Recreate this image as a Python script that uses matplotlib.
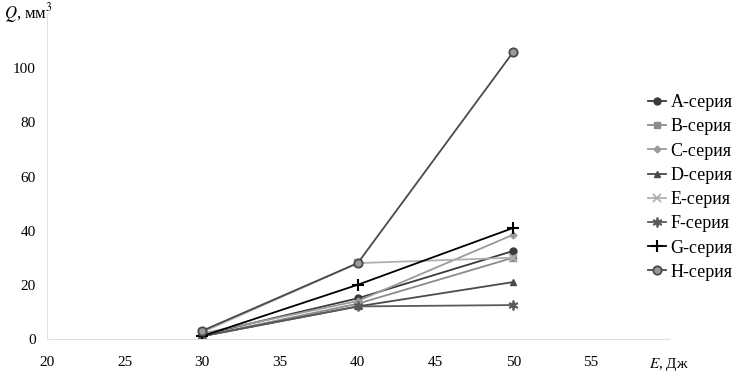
import numpy as np
import matplotlib
matplotlib.use("Agg")
import matplotlib.pyplot as plt

plt.rcParams['font.family'] = ['Liberation Serif', 'DejaVu Serif']
plt.rcParams['mathtext.fontset'] = 'stix'

# энергия удара, Дж
E = [30, 40, 50]

# объём износа Q, мм3 по сериям
series = ['A-серия', 'B-серия', 'C-серия', 'D-серия',
          'E-серия', 'F-серия', 'G-серия', 'H-серия']
Q_A = [1.5, 15, 32.5]
Q_B = [1.0, 13, 30]
Q_C = [2.0, 14, 38.5]
Q_D = [1.0, 12, 21]
Q_E = [2.5, 28, 30]
Q_F = [1.0, 12, 12.5]
Q_G = [1.0, 20, 41]
Q_H = [3.0, 28, 106]

x_ticks = [20, 25, 30, 35, 40, 45, 50, 55, 60]
x_labels = ['20', '25', '30', '35', '40', '45', '50', '55', '$E$, Дж']
y_ticks = [0, 20, 40, 60, 80, 100, 120]
y_labels = ['0', '20', '40', '60', '80', '100', '']

styles = [
    dict(color='#3a3a3a', marker='o', ms=5),
    dict(color='#8c8c8c', marker='s', ms=5),
    dict(color='#9a9a9a', marker='D', ms=3.5),
    dict(color='#4a4a4a', marker='^', ms=5),
    dict(color='#b0b0b0', marker='x', ms=6, mew=1.3),
    dict(color='#5a5a5a', marker=(6, 2, 0), ms=7, mew=1.3),
    dict(color='#000000', marker='+', ms=9, mew=1.5),
    dict(color='#4a4a4a', marker='o', ms=6, mfc='#9a9a9a', mew=1.3),
]

fig = plt.figure(figsize=(7.43, 3.72), dpi=100)
ax = fig.add_axes([0.063, 0.089, 0.837, 0.873])

for name, q, st in zip(series, [Q_A, Q_B, Q_C, Q_D, Q_E, Q_F, Q_G, Q_H], styles):
    ax.plot(E, q, lw=1.3, label=name, **st)

ax.set_xlim(20, 60)
ax.set_ylim(0, 120)
ax.set_xticks(x_ticks)
ax.set_xticklabels(x_labels, fontsize=11)
ax.set_yticks(y_ticks)
ax.set_yticklabels(y_labels, fontsize=11)
ax.tick_params(length=0, pad=12)
ax.tick_params(axis='y', pad=8)

for s in ['top', 'right']:
    ax.spines[s].set_visible(False)
for s in ['left', 'bottom']:
    ax.spines[s].set_color('#e0e0e0')
    ax.spines[s].set_linewidth(0.8)

fig.text(0.005, 0.965, '$Q$, мм$^3$', fontsize=12, va='center')

fig.legend(loc='center left', bbox_to_anchor=(0.872, 0.496),
           frameon=False, fontsize=13, handlelength=1.0, handletextpad=0.25,
           labelspacing=0.4, borderpad=0, borderaxespad=0)

fig.savefig('out.png', dpi=100)
